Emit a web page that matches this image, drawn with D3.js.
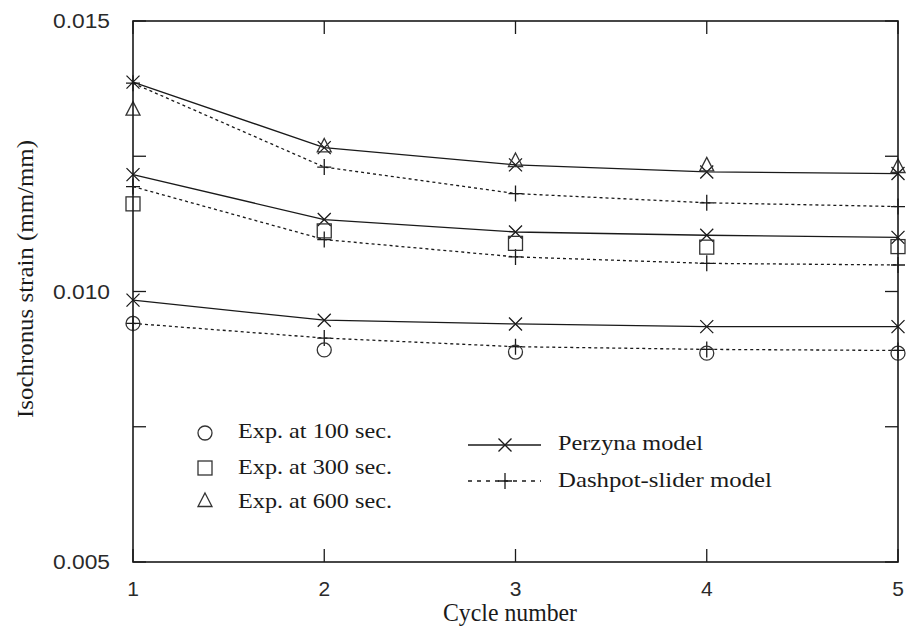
<!DOCTYPE html>
<html>
  <head>
    <meta charset="utf-8">
    <title>Isochronus strain vs cycle number</title>
    <script src="https://cdn.jsdelivr.net/npm/d3@7"></script>
    <style>
      body { margin: 0; background: #fff; }
      svg { display: block; }
    </style>
  </head>
  <body>
    <div id="chart"></div>
    <script type="text/javascript">
    var cycles = [1, 2, 3, 4, 5];

    // model curves, one per hold time
    var perzyna100 = [0.00984, 0.00947, 0.00940, 0.00935, 0.00935];
    var perzyna300 = [0.01216, 0.01133, 0.01110, 0.01104, 0.01100];
    var perzyna600 = [0.01387, 0.01266, 0.01234, 0.01221, 0.01218];
    var dashpot100 = [0.00941, 0.00914, 0.00898, 0.00893, 0.00891];
    var dashpot300 = [0.01194, 0.01096, 0.01064, 0.01052, 0.01049];
    var dashpot600 = [0.01385, 0.01230, 0.01181, 0.01164, 0.01157];

    // experiments
    var exp100 = [0.00941, 0.00892, 0.00888, 0.00886, 0.00886];
    var exp300 = [0.01162, 0.01112, 0.01089, 0.01082, 0.01083];
    var exp600 = [0.01338, 0.01270, 0.01243, 0.01235, 0.01232];

    var yTicks = [0.005, 0.0075, 0.010, 0.0125, 0.015];
    var yTickLabels = ['0.005', '', '0.010', '', '0.015'];
    var xTickLabels = ['1', '2', '3', '4', '5'];

    var expLegend = ['Exp. at 100 sec.', 'Exp. at 300 sec.', 'Exp. at 600 sec.'];
    var modelLegend = ['Perzyna model', 'Dashpot-slider model'];

    (function(){
    var W = 906, H = 627;
    var PL = 133, PT = 21, PR = 898, PB = 562;
    var INK = '#1a1a1a';

    var svg = d3.select('#chart').append('svg')
      .attr('width', W).attr('height', H);

    var x = d3.scaleLinear().domain([1, 5]).range([PL, PR]);
    var y = d3.scaleLinear().domain([0.005, 0.015]).range([PB, PT]);

    var serif = '"Liberation Serif", "DejaVu Serif", serif';
    var sans = '"Liberation Sans", Arial, sans-serif';

    // markers
    var xMark = 'M-6.5,-6.5L6.5,6.5M-6.5,6.5L6.5,-6.5';
    var plusMark = 'M-7,0H7M0,-8V8';
    var triMark = 'M0,-7L7,6.5H-7Z';

    var drawMarker = function(g, kind, cx, cy){
      if(kind === 'circle'){
        g.append('circle').attr('cx', cx).attr('cy', cy).attr('r', 7);
      }else if(kind === 'square'){
        g.append('rect').attr('x', cx - 7).attr('y', cy - 7)
          .attr('width', 14).attr('height', 14);
      }else{
        var d = kind === 'x' ? xMark : kind === 'plus' ? plusMark : triMark;
        g.append('path').attr('d', d).attr('transform', 'translate(' + cx + ',' + cy + ')');
      }
    };

    var line = d3.line()
      .x(function(d, i){ return x(cycles[i]); })
      .y(function(d){ return y(d); });

    var curves = [
      {vals: perzyna100, dash: null, mark: 'x'},
      {vals: perzyna300, dash: null, mark: 'x'},
      {vals: perzyna600, dash: null, mark: 'x'},
      {vals: dashpot100, dash: '3,3', mark: 'plus'},
      {vals: dashpot300, dash: '3,3', mark: 'plus'},
      {vals: dashpot600, dash: '3,3', mark: 'plus'}
    ];

    var plot = svg.append('g');

    curves.forEach(function(c){
      plot.append('path')
        .attr('d', line(c.vals))
        .attr('fill', 'none')
        .attr('stroke', INK)
        .attr('stroke-width', 1.3)
        .attr('stroke-dasharray', c.dash);
      var mg = plot.append('g').attr('fill', 'none').attr('stroke', INK).attr('stroke-width', 1.3);
      c.vals.forEach(function(v, i){
        drawMarker(mg, c.mark, x(cycles[i]), y(v));
      });
    });

    var exps = [
      {vals: exp100, mark: 'circle'},
      {vals: exp300, mark: 'square'},
      {vals: exp600, mark: 'tri'}
    ];
    exps.forEach(function(e){
      var mg = plot.append('g').attr('fill', 'none').attr('stroke', '#333').attr('stroke-width', 1.3);
      e.vals.forEach(function(v, i){
        drawMarker(mg, e.mark, x(cycles[i]), y(v));
      });
    });

    // frame
    svg.append('rect')
      .attr('x', PL).attr('y', PT)
      .attr('width', PR - PL).attr('height', PB - PT)
      .attr('fill', 'none').attr('stroke', INK).attr('stroke-width', 1.6);

    // ticks, inward on all four sides
    var TL = 13;
    var tickG = svg.append('g').attr('stroke', INK).attr('stroke-width', 1.3);
    yTicks.forEach(function(t){
      tickG.append('line').attr('x1', PL).attr('x2', PL + TL).attr('y1', y(t)).attr('y2', y(t));
      tickG.append('line').attr('x1', PR).attr('x2', PR - TL).attr('y1', y(t)).attr('y2', y(t));
    });
    cycles.forEach(function(c){
      tickG.append('line').attr('x1', x(c)).attr('x2', x(c)).attr('y1', PB).attr('y2', PB - TL);
      tickG.append('line').attr('x1', x(c)).attr('x2', x(c)).attr('y1', PT).attr('y2', PT + TL);
    });

    // tick labels
    var labG = svg.append('g').attr('fill', '#2a2a2a').attr('font-family', sans);
    yTicks.forEach(function(t, i){
      if(!yTickLabels[i]) return;
      labG.append('text')
        .attr('x', 110).attr('y', y(t) + 7)
        .attr('text-anchor', 'end')
        .attr('font-size', 20)
        .attr('textLength', 57).attr('lengthAdjust', 'spacingAndGlyphs')
        .text(yTickLabels[i]);
    });
    cycles.forEach(function(c, i){
      labG.append('text')
        .attr('x', x(c)).attr('y', 596)
        .attr('text-anchor', 'middle')
        .attr('font-size', 21)
        .text(xTickLabels[i]);
    });

    // axis titles
    svg.append('text')
      .attr('transform', 'translate(33,279) rotate(-90)')
      .attr('text-anchor', 'middle')
      .attr('font-family', serif).attr('font-size', 24).attr('fill', INK)
      .attr('textLength', 278).attr('lengthAdjust', 'spacingAndGlyphs')
      .text('Isochronus strain (mm/mm)');

    svg.append('text')
      .attr('x', 510).attr('y', 621)
      .attr('text-anchor', 'middle')
      .attr('font-family', serif).attr('font-size', 25).attr('fill', INK)
      .attr('textLength', 134).attr('lengthAdjust', 'spacingAndGlyphs')
      .text('Cycle number');

    // legend: experiments
    var expMarks = ['circle', 'square', 'tri'];
    var expY = [433, 468, 500];
    var expBase = [438, 474, 508];
    expLegend.forEach(function(name, i){
      var mg = svg.append('g').attr('fill', 'none').attr('stroke', '#333').attr('stroke-width', 1.3);
      drawMarker(mg, expMarks[i], 205, expY[i]);
      svg.append('text')
        .attr('x', 238).attr('y', expBase[i])
        .attr('font-family', serif).attr('font-size', 22).attr('fill', INK)
        .attr('textLength', 154).attr('lengthAdjust', 'spacingAndGlyphs')
        .text(name);
    });

    // legend: models
    var modelY = [445, 481];
    var modelBase = [450, 487];
    var modelW = [145, 214];
    var modelDash = [null, '4,5'];
    var modelMarks = ['x', 'plus'];
    modelLegend.forEach(function(name, i){
      svg.append('line')
        .attr('x1', 468).attr('x2', 541).attr('y1', modelY[i]).attr('y2', modelY[i])
        .attr('stroke', INK).attr('stroke-width', 1.3)
        .attr('stroke-dasharray', modelDash[i]);
      var mg = svg.append('g').attr('fill', 'none').attr('stroke', INK).attr('stroke-width', 1.3);
      drawMarker(mg, modelMarks[i], 505, modelY[i]);
      svg.append('text')
        .attr('x', 558).attr('y', modelBase[i])
        .attr('font-family', serif).attr('font-size', 22).attr('fill', INK)
        .attr('textLength', modelW[i]).attr('lengthAdjust', 'spacingAndGlyphs')
        .text(name);
    });
    })();
    </script>
  </body>
</html>
